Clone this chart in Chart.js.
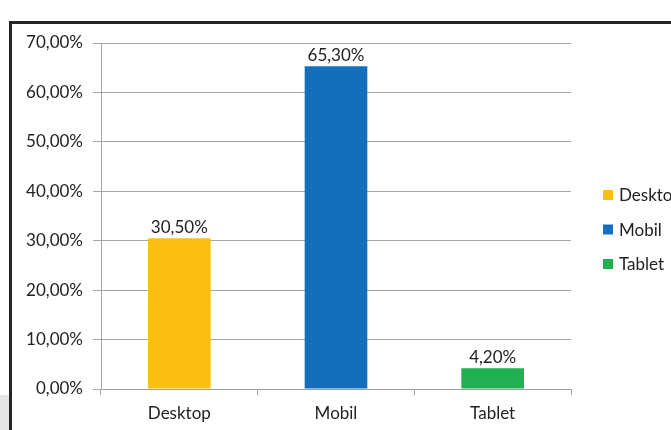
<!DOCTYPE html>
<html>
<head>
<meta charset="utf-8">
<script src="https://cdn.jsdelivr.net/npm/chart.js@4"></script>
<style>
html,body{margin:0;padding:0;background:#fff;overflow:hidden;}
#wrap{width:671px;height:430px;position:relative;}
</style>
</head>
<body>
<div id="wrap"><canvas id="c" width="671" height="430"></canvas></div>
<script>
const categories = ['Desktop', 'Mobil', 'Tablet'];
const shareValues = [30.5, 65.3, 4.2];
const barColors = ['#FCBF12', '#136FBB', '#21B052'];
const yTicks = [0, 10, 20, 30, 40, 50, 60, 70];

const FONT = 'Lato, "Open Sans", sans-serif';
const fmt = v => v.toFixed(2).replace('.', ',') + '%';

const framePlugin = {
  id: 'frame',
  beforeDraw(chart) {
    const ctx = chart.ctx;
    ctx.save();
    ctx.fillStyle = '#fff';
    ctx.fillRect(0, 0, chart.width, chart.height);
    ctx.fillStyle = '#e6e6e6';
    ctx.fillRect(0, 395, 9, 35);
    ctx.fillStyle = '#262626';
    ctx.fillRect(9, 21, chart.width - 9, 3);
    ctx.fillRect(9, 21, 3, chart.height - 21);
    ctx.restore();
  },
  afterDatasetsDraw(chart) {
    const ctx = chart.ctx;
    const meta = chart.getDatasetMeta(0);
    ctx.save();
    ctx.font = '17px ' + FONT;
    ctx.fillStyle = '#222';
    ctx.textAlign = 'center';
    ctx.textBaseline = 'alphabetic';
    meta.data.forEach((bar, i) => {
      ctx.fillText(fmt(shareValues[i]), bar.x, bar.y - 5);
    });
    // legend (custom, right side)
    const ys = [195, 229.5, 264];
    ctx.font = '17px ' + FONT;
    ctx.textAlign = 'left';
    ctx.textBaseline = 'middle';
    categories.forEach((c, i) => {
      ctx.fillStyle = barColors[i];
      ctx.fillRect(603, ys[i] - 5, 10, 10);
      ctx.fillStyle = '#222';
      ctx.fillText(c, 619, ys[i] + 1);
    });
    ctx.restore();
  }
};

new Chart(document.getElementById('c'), {
  type: 'bar',
  data: {
    labels: categories,
    datasets: [{
      data: shareValues,
      backgroundColor: barColors,
      borderWidth: 0,
      barPercentage: 0.4,
      categoryPercentage: 1.0
    }]
  },
  options: {
    responsive: false,
    animation: false,
    events: [],
    layout: { padding: { left: 12, top: 43, right: 100, bottom: 0 } },
    plugins: { legend: { display: false }, tooltip: { enabled: false }, title: { display: false } },
    scales: {
      x: {
        offset: true,
        grid: { offset: true, drawOnChartArea: false, tickLength: 6, color: '#a0a0a0', lineWidth: 1 },
        border: { color: '#a0a0a0', width: 1 },
        ticks: { color: '#222', font: { family: FONT, size: 17 }, padding: 8 },
        afterFit(s) { s.height = 41; }
      },
      y: {
        min: 0, max: 70,
        afterBuildTicks(s) { s.ticks = yTicks.map(v => ({ value: v })); },
        grid: { color: '#a6a6a6', lineWidth: 1, tickLength: 8 },
        border: { color: '#a6a6a6', width: 1 },
        ticks: { color: '#222', font: { family: FONT, size: 17 }, padding: 10, callback: v => fmt(v) },
        afterFit(s) { s.width = 89; }
      }
    }
  },
  plugins: [framePlugin]
});
</script>
</body>
</html>
